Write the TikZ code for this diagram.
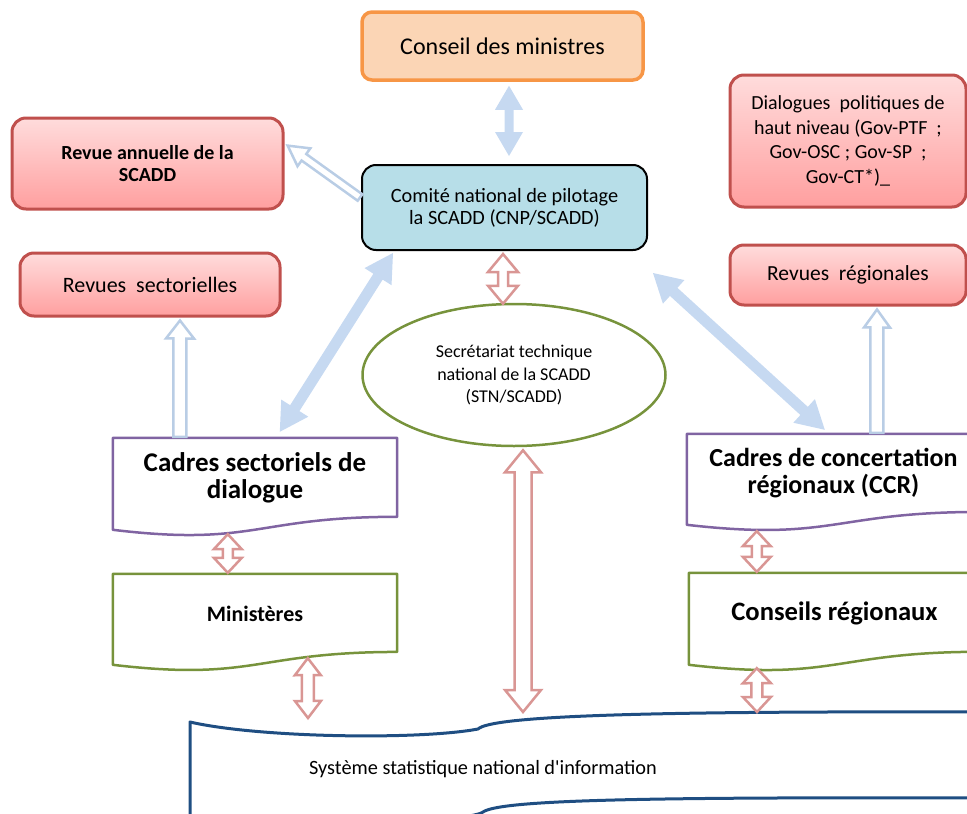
\documentclass[tikz,border=0pt]{standalone}
\usepackage{fontspec}
\setmainfont{Carlito}
\usetikzlibrary{calc,shapes.geometric}
\definecolor{pinkbd}{HTML}{C0504D}
\definecolor{pinktop}{HTML}{FFDCDC}
\definecolor{pinkbot}{HTML}{FF9F9F}
\definecolor{orangebd}{HTML}{F79646}
\definecolor{peach}{HTML}{FBD5B5}
\definecolor{cnpfill}{HTML}{B7DEE8}
\definecolor{arrblue}{HTML}{C6D9F1}
\definecolor{arrblueline}{HTML}{B9CDE5}
\definecolor{arrpink}{HTML}{D99694}
\definecolor{grn}{HTML}{77933C}
\definecolor{purp}{HTML}{8064A2}
\definecolor{navy}{HTML}{1F4E82}
\newcommand\fsz[2]{\fontsize{#1}{#2}\selectfont}
% double headed block arrow: style, start, end, shaft half width, head half width, head length
\newcommand\dblarr[6]{%
  \path[#1] let \p1=#2, \p2=#3, \n1={atan2(\y2-\y1,\x2-\x1)}, \n2={veclen(\x2-\x1,\y2-\y1)} in
   [shift={(\p1)}, rotate=\n1]
   (0,0) -- (#6,#5) -- (#6,#4) -- ({\n2-#6},#4) -- ({\n2-#6},#5) -- (\n2,0)
   -- ({\n2-#6},-#5) -- ({\n2-#6},-#4) -- (#6,-#4) -- (#6,-#5) -- cycle;}
% single headed block arrow pointing to the end
\newcommand\sglarr[6]{%
  \path[#1] let \p1=#2, \p2=#3, \n1={atan2(\y2-\y1,\x2-\x1)}, \n2={veclen(\x2-\x1,\y2-\y1)} in
   [shift={(\p1)}, rotate=\n1]
   (0,#4) -- ({\n2-#6},#4) -- ({\n2-#6},#5) -- (\n2,0)
   -- ({\n2-#6},-#5) -- ({\n2-#6},-#4) -- (0,-#4) -- cycle;}
% document shape outline round a node: name, full height, colour
\newcommand\docout[3]{%
  \draw[draw=#3, line width=2.5, line join=round]
   (#1.north west) -- (#1.north east) -- ($(#1.north east)+(0,{0.8587*#2})$)
   .. controls ($(#1.north)+(0,{0.8587*#2})$) and ($(#1.north)+(0,{1.185*#2})$) ..
   ($(#1.north west)+(0,#2)$) -- cycle;}
\tikzset{
  pinkbox/.style={rounded corners=14, draw=pinkbd, line width=3, top color=pinktop, bottom color=pinkbot, align=center, inner sep=0},
  docnode/.style={draw=none, align=center, inner sep=0},
  bluesolid/.style={fill=arrblue, draw=none},
  bluehollow/.style={draw=arrblueline, fill=white, line width=2.5, line join=miter},
  pinkarrow/.style={draw=arrpink, fill=white, line width=2.5, line join=miter},
}
\begin{document}
\begin{tikzpicture}[x=1pt,y=-1pt]
\useasboundingbox (0,0) rectangle (967,814);
\begin{scope}
\clip (0,0) rectangle (967,814);
% top boxes
\node[rounded corners=10, draw=orangebd, line width=3.5, fill=peach, minimum width=281, minimum height=68, inner sep=0, font=\fsz{24}{26}]
  (cm) at (502.5,46) {Conseil des ministres};
\node[rounded corners=14, draw=black, line width=2, fill=cnpfill, minimum width=285, minimum height=85, align=center, inner sep=0, font=\fsz{20.3}{22}]
  (cnp) at (504.5,207.5) {Comité national de pilotage\\la SCADD (CNP/SCADD)};
\node[pinkbox, minimum width=271, minimum height=91, font=\fsz{20}{22.5}\bfseries] (ra) at (147.5,163.5)
  {Revue annuelle de la\\SCADD};
\node[pinkbox, minimum width=260, minimum height=63, font=\fsz{22}{24}] (rs) at (150,284.5)
  {Revues~ sectorielles};
\node[pinkbox, minimum width=236, minimum height=132, font=\fsz{20}{24.5}] (dp) at (848,141)
  {Dialogues~ politiques de\\haut niveau (Gov-PTF~ ;\\Gov-OSC ; Gov-SP~ ;\\Gov-CT*)\_};
\node[pinkbox, minimum width=236, minimum height=60, font=\fsz{21.5}{24}] (rr) at (848,275)
  {Revues~ régionales};
% ellipse
\node[ellipse, draw=grn, line width=2.5, minimum width=303, minimum height=142, align=center, inner sep=0, font=\fsz{18}{22.5}]
  (stn) at (514,375) {Secrétariat technique\\national de la SCADD\\(STN/SCADD)};
% document shapes
\node[docnode, minimum width=284, minimum height=80, font=\fsz{27}{27}\bfseries] (csd) at (255,478)
  {Cadres sectoriels de\\dialogue};
\node[docnode, minimum width=284, minimum height=79, font=\fsz{22}{24}\bfseries] (min) at (255,613.5)
  {Ministères};
\node[docnode, minimum width=293, minimum height=79, font=\fsz{26}{27}\bfseries] (ccr) at (833.5,473.5)
  {Cadres de concertation\\régionaux (CCR)};
\node[docnode, minimum width=291, minimum height=80, font=\fsz{26.6}{28}\bfseries] (cr) at (834.5,613)
  {Conseils régionaux};
\docout{csd}{92}{purp}
\docout{min}{91}{grn}
\docout{ccr}{91}{purp}
\docout{cr}{92}{grn}
% system shape
\draw[draw=navy, line width=3, line join=round]
  (190,722) .. controls (260,738) and (420,740) .. (478,729)
  .. controls (492,716) and (640,711) .. (975,712) -- (975,798)
  .. controls (640,797) and (500,800) .. (483,812)
  .. controls (470,822) and (300,830) .. (190,826) -- cycle;
\node[inner sep=0, font=\fsz{20.3}{22}] (sys) at (483,769) {Système statistique national d\textquotesingle information};
% blue arrows
\dblarr{bluesolid}{($(cm.south)+(6.5,4)$)}{($(cnp.north)+(4.5,-8)$)}{4.5}{14}{24}
\sglarr{bluehollow}{($(cnp.west)+(-1,-10)$)}{($(ra.east)+(3,-18)$)}{4}{11}{20}
\dblarr{bluesolid}{($(cnp.south west)+(32,2)$)}{($(csd.north west)+(167,-6)$)}{5.5}{16}{28}
\dblarr{bluesolid}{($(cnp.south east)+(5,22)$)}{($(ccr.north west)+(138,-4)$)}{5.5}{16}{28}
\sglarr{bluehollow}{($(csd.north west)+(67,-1)$)}{($(rs.south)+(30,3)$)}{6.5}{14}{18}
\sglarr{bluehollow}{($(ccr.north west)+(190,-1)$)}{($(rr.south)+(29,3)$)}{6.5}{13}{18}
% pink arrows
\dblarr{pinkarrow}{($(cnp.south)+(-1.5,3)$)}{($(stn.north)+(-11,1)$)}{5}{15}{18}
\dblarr{pinkarrow}{($(stn.south)+(9,3)$)}{($(sys.center)+(40,-57)$)}{8.5}{18}{22}
\dblarr{pinkarrow}{($(csd.south west)+(115,16)$)}{($(min.north west)+(115,-1)$)}{5}{14}{15}
\dblarr{pinkarrow}{($(min.south west)+(195,5)$)}{($(sys.center)+(-175,-51)$)}{6}{13}{17}
\dblarr{pinkarrow}{($(ccr.south west)+(70,18)$)}{($(cr.north west)+(68,-1)$)}{5}{14}{15}
\dblarr{pinkarrow}{($(cr.south west)+(68,15)$)}{($(sys.center)+(274,-57)$)}{5.5}{14}{15}
\end{scope}
\end{tikzpicture}
\end{document}
